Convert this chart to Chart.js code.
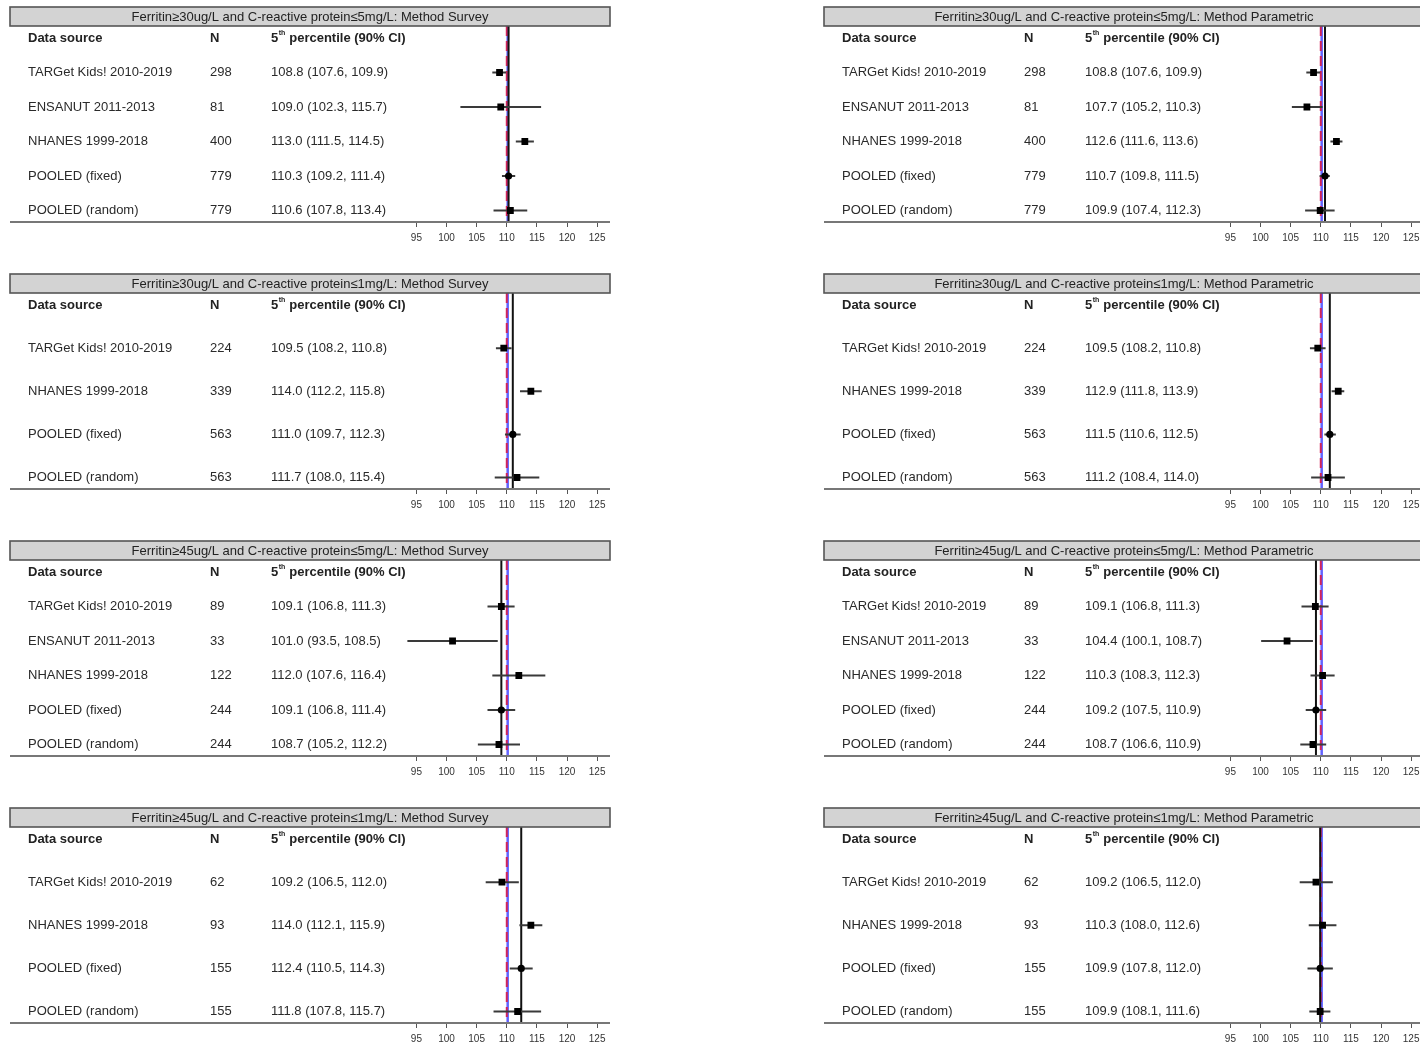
<!DOCTYPE html>
<html>
<head>
<meta charset="utf-8">
<script src="https://cdn.jsdelivr.net/npm/chart.js@4.4.0/dist/chart.umd.min.js"></script>
<style>
  body { margin: 0; background: #fff; width: 1420px; height: 1044px; overflow: hidden; position: relative; }
  canvas { position: absolute; }
</style>
</head>
<body>
<script>
// titres des 8 panneaux (ligne par ligne, gauche puis droite)
const panelTitles = [
  "Ferritin\u226530ug/L and C-reactive protein\u22645mg/L: Method Survey",
  "Ferritin\u226530ug/L and C-reactive protein\u22645mg/L: Method Parametric",
  "Ferritin\u226530ug/L and C-reactive protein\u22641mg/L: Method Survey",
  "Ferritin\u226530ug/L and C-reactive protein\u22641mg/L: Method Parametric",
  "Ferritin\u226545ug/L and C-reactive protein\u22645mg/L: Method Survey",
  "Ferritin\u226545ug/L and C-reactive protein\u22645mg/L: Method Parametric",
  "Ferritin\u226545ug/L and C-reactive protein\u22641mg/L: Method Survey",
  "Ferritin\u226545ug/L and C-reactive protein\u22641mg/L: Method Parametric"
];

const sources5 = ["TARGet Kids! 2010-2019", "ENSANUT 2011-2013", "NHANES 1999-2018", "POOLED (fixed)", "POOLED (random)"];
const sources4 = ["TARGet Kids! 2010-2019", "NHANES 1999-2018", "POOLED (fixed)", "POOLED (random)"];
const panelSources = [sources5, sources5, sources4, sources4, sources5, sources5, sources4, sources4];

const nValues = [
  [298, 81, 400, 779, 779],
  [298, 81, 400, 779, 779],
  [224, 339, 563, 563],
  [224, 339, 563, 563],
  [89, 33, 122, 244, 244],
  [89, 33, 122, 244, 244],
  [62, 93, 155, 155],
  [62, 93, 155, 155]
];

const estimates = [
  [108.8, 109.0, 113.0, 110.3, 110.6],
  [108.8, 107.7, 112.6, 110.7, 109.9],
  [109.5, 114.0, 111.0, 111.7],
  [109.5, 112.9, 111.5, 111.2],
  [109.1, 101.0, 112.0, 109.1, 108.7],
  [109.1, 104.4, 110.3, 109.2, 108.7],
  [109.2, 114.0, 112.4, 111.8],
  [109.2, 110.3, 109.9, 109.9]
];

const lowerCI = [
  [107.6, 102.3, 111.5, 109.2, 107.8],
  [107.6, 105.2, 111.6, 109.8, 107.4],
  [108.2, 112.2, 109.7, 108.0],
  [108.2, 111.8, 110.6, 108.4],
  [106.8, 93.5, 107.6, 106.8, 105.2],
  [106.8, 100.1, 108.3, 107.5, 106.6],
  [106.5, 112.1, 110.5, 107.8],
  [106.5, 108.0, 107.8, 108.1]
];

const upperCI = [
  [109.9, 115.7, 114.5, 111.4, 113.4],
  [109.9, 110.3, 113.6, 111.5, 112.3],
  [110.8, 115.8, 112.3, 115.4],
  [110.8, 113.9, 112.5, 114.0],
  [111.3, 108.5, 116.4, 111.4, 112.2],
  [111.3, 108.7, 112.3, 110.9, 110.9],
  [112.0, 115.9, 114.3, 115.7],
  [112.0, 112.6, 112.0, 111.6]
];

const xTicks = [95, 100, 105, 110, 115, 120, 125];
const blueRef = 110.15; // ligne bleue pleine
const redRef = 110;     // ligne rouge pointillee

const FONT = '"Liberation Sans", Arial, sans-serif';
const PANEL_W = 620, PANEL_H = 267, COL_STEP = 814;

// dessin du bandeau titre, des colonnes de texte et de la ligne d'axe
const textePlugin = {
  id: "texteForest",
  afterDraw(chart) {
    const opts = chart.options.plugins.texteForest;
    const ctx = chart.ctx;
    const yScale = chart.scales.y;
    const sources = opts.sources;
    ctx.save();

    // bandeau titre
    ctx.fillStyle = "#d3d3d3";
    ctx.fillRect(10, 7, 600, 19);
    ctx.strokeStyle = "#555";
    ctx.lineWidth = 1.6;
    ctx.strokeRect(10, 7, 600, 19);
    ctx.fillStyle = "#222";
    ctx.font = "13px " + FONT;
    ctx.textAlign = "center";
    ctx.textBaseline = "middle";
    ctx.fillText(opts.title, 310, 17);

    // entetes
    ctx.textAlign = "left";
    const yHead = yScale.getPixelForValue(0);
    ctx.font = "bold 13px " + FONT;
    ctx.fillText("Data source", 28, yHead);
    ctx.fillText("N", 210, yHead);
    ctx.fillText("5", 271, yHead);
    const w5 = ctx.measureText("5").width;
    ctx.font = "bold 7px " + FONT;
    ctx.fillText("th", 271 + w5 + 0.5, yHead - 5);
    ctx.font = "bold 13px " + FONT;
    ctx.fillText("percentile (90% CI)", 271 + w5 + 11, yHead);

    // lignes
    ctx.font = "13px " + FONT;
    ctx.fillStyle = "#2a2a2a";
    for (let i = 0; i < sources.length; i++) {
      const y = yScale.getPixelForValue(i + 1);
      ctx.fillText(sources[i], 28, y);
      ctx.fillText(String(opts.n[i]), 210, y);
      const txt = opts.est[i].toFixed(1) + " (" + opts.lo[i].toFixed(1) + ", " + opts.hi[i].toFixed(1) + ")";
      ctx.fillText(txt, 271, y);
    }

    // ligne horizontale de l'axe sur toute la largeur
    const yAxe = chart.chartArea.bottom;
    ctx.strokeStyle = "#777";
    ctx.lineWidth = 2;
    ctx.beginPath();
    ctx.moveTo(10, yAxe);
    ctx.lineTo(610, yAxe);
    ctx.stroke();
    ctx.restore();
  }
};

function creerPanneau(p) {
  const col = p % 2;
  const row = Math.floor(p / 2);
  const canvas = document.createElement("canvas");
  canvas.width = PANEL_W;
  canvas.height = PANEL_H;
  canvas.style.left = col * COL_STEP + "px";
  canvas.style.top = row * PANEL_H + "px";
  canvas.style.width = PANEL_W + "px";
  canvas.style.height = PANEL_H + "px";
  document.body.appendChild(canvas);

  const sources = panelSources[p];
  const n = sources.length;
  const unit = 172.5 / n;          // ecart entre lignes (entete a 38, derniere ligne a 210.5)
  const yMin = -12 / unit;
  const yMax = n + 11.5 / unit;
  const est = estimates[p];
  const lo = lowerCI[p];
  const hi = upperCI[p];
  const fixe = est[sources.indexOf("POOLED (fixed)")];

  // segments des IC, separes par des points vides
  const segments = [];
  for (let i = 0; i < n; i++) {
    segments.push({ x: lo[i], y: i + 1 }, { x: hi[i], y: i + 1 }, { x: null, y: null });
  }
  const points = est.map((v, i) => ({ x: v, y: i + 1 }));
  const styles = sources.map((s) => (s === "POOLED (fixed)" ? "circle" : "rect"));
  const rayons = sources.map((s) => (s === "POOLED (fixed)" ? 3.6 : 4.8));

  new Chart(canvas, {
    type: "scatter",
    data: {
      datasets: [
        {
          data: points,
          pointStyle: styles,
          pointRadius: rayons,
          backgroundColor: "#000",
          borderWidth: 0,
          order: 0
        },
        {
          data: segments,
          showLine: true,
          spanGaps: false,
          borderColor: "#3a3a3a",
          borderWidth: 2,
          pointRadius: 0,
          order: 1
        },
        {
          data: [{ x: fixe, y: yMin }, { x: fixe, y: yMax }],
          showLine: true,
          borderColor: "#111",
          borderWidth: 2,
          pointRadius: 0,
          order: 2
        },
        {
          data: [{ x: redRef, y: yMin }, { x: redRef, y: yMax }],
          showLine: true,
          borderColor: "#d1245a",
          borderWidth: 2,
          borderDash: [10, 5],
          pointRadius: 0,
          order: 3
        },
        {
          data: [{ x: blueRef, y: yMin }, { x: blueRef, y: yMax }],
          showLine: true,
          borderColor: "#6262ff",
          borderWidth: 2.5,
          pointRadius: 0,
          order: 4
        }
      ]
    },
    options: {
      responsive: false,
      animation: false,
      events: [],
      devicePixelRatio: 1,
      layout: { padding: { left: 386.3, right: 2.8, top: 26, bottom: 21 } },
      plugins: {
        legend: { display: false },
        tooltip: { enabled: false },
        texteForest: { title: panelTitles[p], sources: sources, n: nValues[p], est: est, lo: lo, hi: hi }
      },
      scales: {
        x: {
          type: "linear",
          min: 90,
          max: 128,
          afterBuildTicks: (scale) => {
            scale.ticks = xTicks.map((v) => ({ value: v }));
          },
          afterFit: (scale) => {
            scale.height = 24;
          },
          ticks: { font: { size: 10, family: FONT }, color: "#333", padding: 5, maxRotation: 0, autoSkip: false },
          grid: { drawOnChartArea: false, drawTicks: true, tickLength: 5, color: "#555" },
          border: { display: false }
        },
        y: {
          type: "linear",
          reverse: true,
          min: yMin,
          max: yMax,
          display: false
        }
      }
    },
    plugins: [textePlugin]
  });
}

for (let p = 0; p < 8; p++) {
  creerPanneau(p);
}
</script>
</body>
</html>
